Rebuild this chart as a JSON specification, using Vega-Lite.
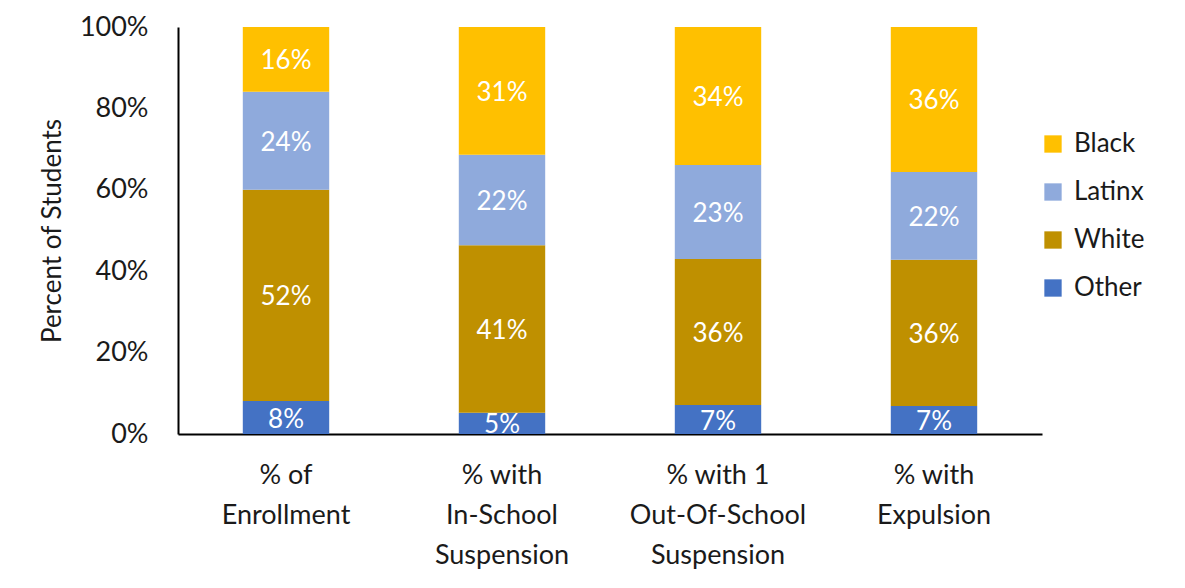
{
  "$schema": "https://vega.github.io/schema/vega-lite/v6.json",
  "width": 864,
  "height": 407,
  "autosize": {"type": "none"},
  "padding": {"left": 178, "top": 27, "right": 143, "bottom": 154},
  "background": "white",
  "data": {
    "values": [
      {"cat": "% of|Enrollment", "group": "Other", "rank": 1, "value": 0.081},
      {"cat": "% of|Enrollment", "group": "White", "rank": 2, "value": 0.519},
      {"cat": "% of|Enrollment", "group": "Latinx", "rank": 3, "value": 0.241},
      {"cat": "% of|Enrollment", "group": "Black", "rank": 4, "value": 0.159},
      {"cat": "% with|In-School|Suspension", "group": "Other", "rank": 1, "value": 0.052},
      {"cat": "% with|In-School|Suspension", "group": "White", "rank": 2, "value": 0.412},
      {"cat": "% with|In-School|Suspension", "group": "Latinx", "rank": 3, "value": 0.222},
      {"cat": "% with|In-School|Suspension", "group": "Black", "rank": 4, "value": 0.314},
      {"cat": "% with 1|Out-Of-School|Suspension", "group": "Other", "rank": 1, "value": 0.071},
      {"cat": "% with 1|Out-Of-School|Suspension", "group": "White", "rank": 2, "value": 0.359},
      {"cat": "% with 1|Out-Of-School|Suspension", "group": "Latinx", "rank": 3, "value": 0.231},
      {"cat": "% with 1|Out-Of-School|Suspension", "group": "Black", "rank": 4, "value": 0.339},
      {"cat": "% with|Expulsion", "group": "Other", "rank": 1, "value": 0.069},
      {"cat": "% with|Expulsion", "group": "White", "rank": 2, "value": 0.359},
      {"cat": "% with|Expulsion", "group": "Latinx", "rank": 3, "value": 0.216},
      {"cat": "% with|Expulsion", "group": "Black", "rank": 4, "value": 0.356}
    ]
  },
  "encoding": {
    "x": {
      "field": "cat",
      "type": "nominal",
      "sort": null,
      "scale": {"paddingInner": 0.6, "paddingOuter": 0.3},
      "axis": {
        "title": null,
        "labelAngle": 0,
        "labelExpr": "split(datum.label, '|')",
        "labelFont": "Lato",
        "labelFontSize": 27,
        "labelColor": "#1a1a1a",
        "labelLineHeight": 40,
        "labelPadding": 28,
        "labelBaseline": "top",
        "ticks": false,
        "domainColor": "#000000",
        "domainWidth": 2
      }
    },
    "y": {
      "field": "value",
      "type": "quantitative",
      "stack": "zero",
      "scale": {"domain": [0, 1], "nice": false},
      "axis": {
        "title": "Percent of Students",
        "titleFont": "Lato",
        "titleFontSize": 26,
        "titleFontWeight": "normal",
        "titleColor": "#1a1a1a",
        "titlePadding": 14,
        "values": [0, 0.2, 0.4, 0.6, 0.8, 1],
        "format": ".0%",
        "labelFont": "Lato",
        "labelFontSize": 27,
        "labelColor": "#1a1a1a",
        "labelPadding": 30,
        "ticks": false,
        "grid": false,
        "domainColor": "#000000",
        "domainWidth": 2
      }
    },
    "order": {"field": "rank", "type": "quantitative"}
  },
  "layer": [
    {
      "mark": {"type": "bar"},
      "encoding": {
        "color": {
          "field": "group",
          "type": "nominal",
          "scale": {
            "domain": ["Black", "Latinx", "White", "Other"],
            "range": ["#FFC000", "#8FAADC", "#BF9000", "#4472C4"]
          },
          "legend": {
            "title": null,
            "orient": "none",
            "legendX": 862,
            "legendY": 104,
            "symbolType": "square",
            "symbolSize": 300,
            "symbolStrokeWidth": 0,
            "labelFont": "Lato",
            "labelFontSize": 26,
            "labelColor": "#1a1a1a",
            "labelOffset": 8,
            "rowPadding": 22
          }
        }
      }
    },
    {
      "mark": {"type": "text", "color": "white", "font": "Lato", "fontSize": 26, "dy": 2},
      "encoding": {
        "y": {"field": "value", "type": "quantitative", "stack": "zero", "bandPosition": 0.5},
        "text": {"field": "value", "type": "quantitative", "format": ".0%"}
      }
    }
  ],
  "config": {"view": {"stroke": null}}
}
